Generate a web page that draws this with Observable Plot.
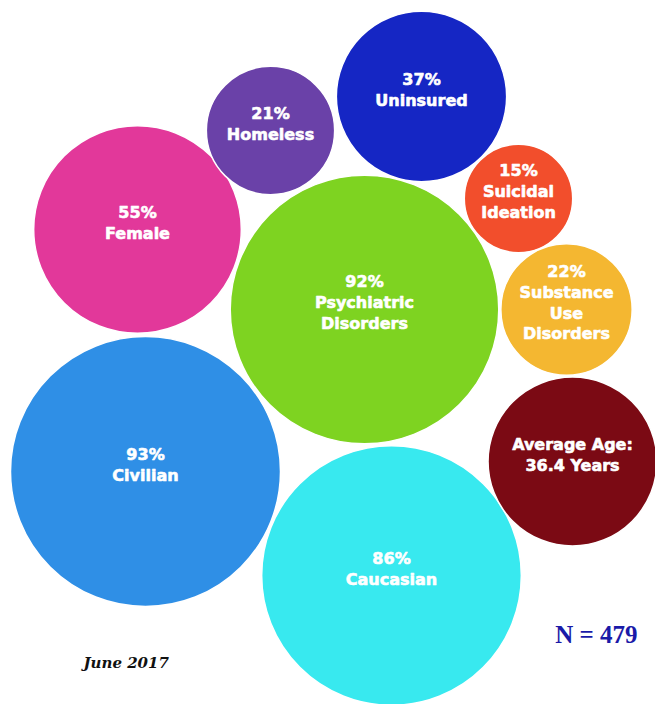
<!DOCTYPE html>
<html>
<head>
<meta charset="utf-8">
<script src="https://cdn.jsdelivr.net/npm/d3@7"></script>
<script src="https://cdn.jsdelivr.net/npm/@observablehq/plot@0.6"></script>
<style>
  html, body { margin: 0; padding: 0; background: #fff; }
  #chart svg { display: block; }
</style>
</head>
<body>
<div id="chart"></div>
<script>
// ---- data ----
const categories = ["Uninsured", "Homeless", "Female", "Suicidal\nIdeation", "Psychiatric\nDisorders",
                    "Substance\nUse\nDisorders", "Civilian", "Average Age:\n36.4 Years", "Caucasian"];
const values = [37, 21, 55, 15, 92, 22, 93, 36.4, 86];
const valueLabels = ["37%", "21%", "55%", "15%", "92%", "22%", "93%", "", "86%"];
// layout position of each bubble (layout units)
const bubbleX = [421, 270, 137, 518, 364, 566, 145, 572, 391];
const bubbleY = [96, 130, 229, 198, 309, 309, 471, 461, 575];
const colors = ["#1526c4", "#6a41a8", "#e2389a", "#f24e2c", "#7ed321", "#f4b731", "#2f8fe6", "#7b0a14", "#38e9ef"];
const sampleNote = "N = 479";
const dateNote = "June 2017";

const rows = categories.map((c, i) => ({
  category: c,
  value: values[i],
  text: valueLabels[i] ? valueLabels[i] + "\n" + c : c,
  x: bubbleX[i],
  y: bubbleY[i],
  color: colors[i]
}));

const chart = Plot.plot({
  width: 655,
  height: 704,
  margin: 0,
  x: {domain: [0, 655], axis: null},
  y: {domain: [0, 704], reverse: true, axis: null},
  r: {type: "sqrt", domain: [0, 100], range: [0, 140]},
  color: {type: "identity"},
  marks: [
    Plot.dot(rows, {x: "x", y: "y", r: "value", fill: "color", stroke: "white", strokeWidth: 1.5}),
    Plot.text(rows, {x: "x", y: "y", text: "text", fill: "white", stroke: "white", strokeWidth: 0.6,
      fontSize: 16, fontWeight: "bold", fontFamily: "DejaVu Sans", lineHeight: 1.3, dy: -8}),
    Plot.text([sampleNote], {frameAnchor: "bottom-right", text: d => d, dx: -18, dy: -62,
      fontFamily: "Liberation Serif", fontWeight: "bold", fontSize: 25, fill: "#1a1aa8"}),
    Plot.text([dateNote], {frameAnchor: "bottom-left", text: d => d, dx: 83, dy: -37, textAnchor: "start",
      fontFamily: "DejaVu Serif", fontWeight: "bold", fontStyle: "italic", fontSize: 15, fill: "#111"})
  ]
});
document.getElementById("chart").append(chart);
</script>
</body>
</html>
